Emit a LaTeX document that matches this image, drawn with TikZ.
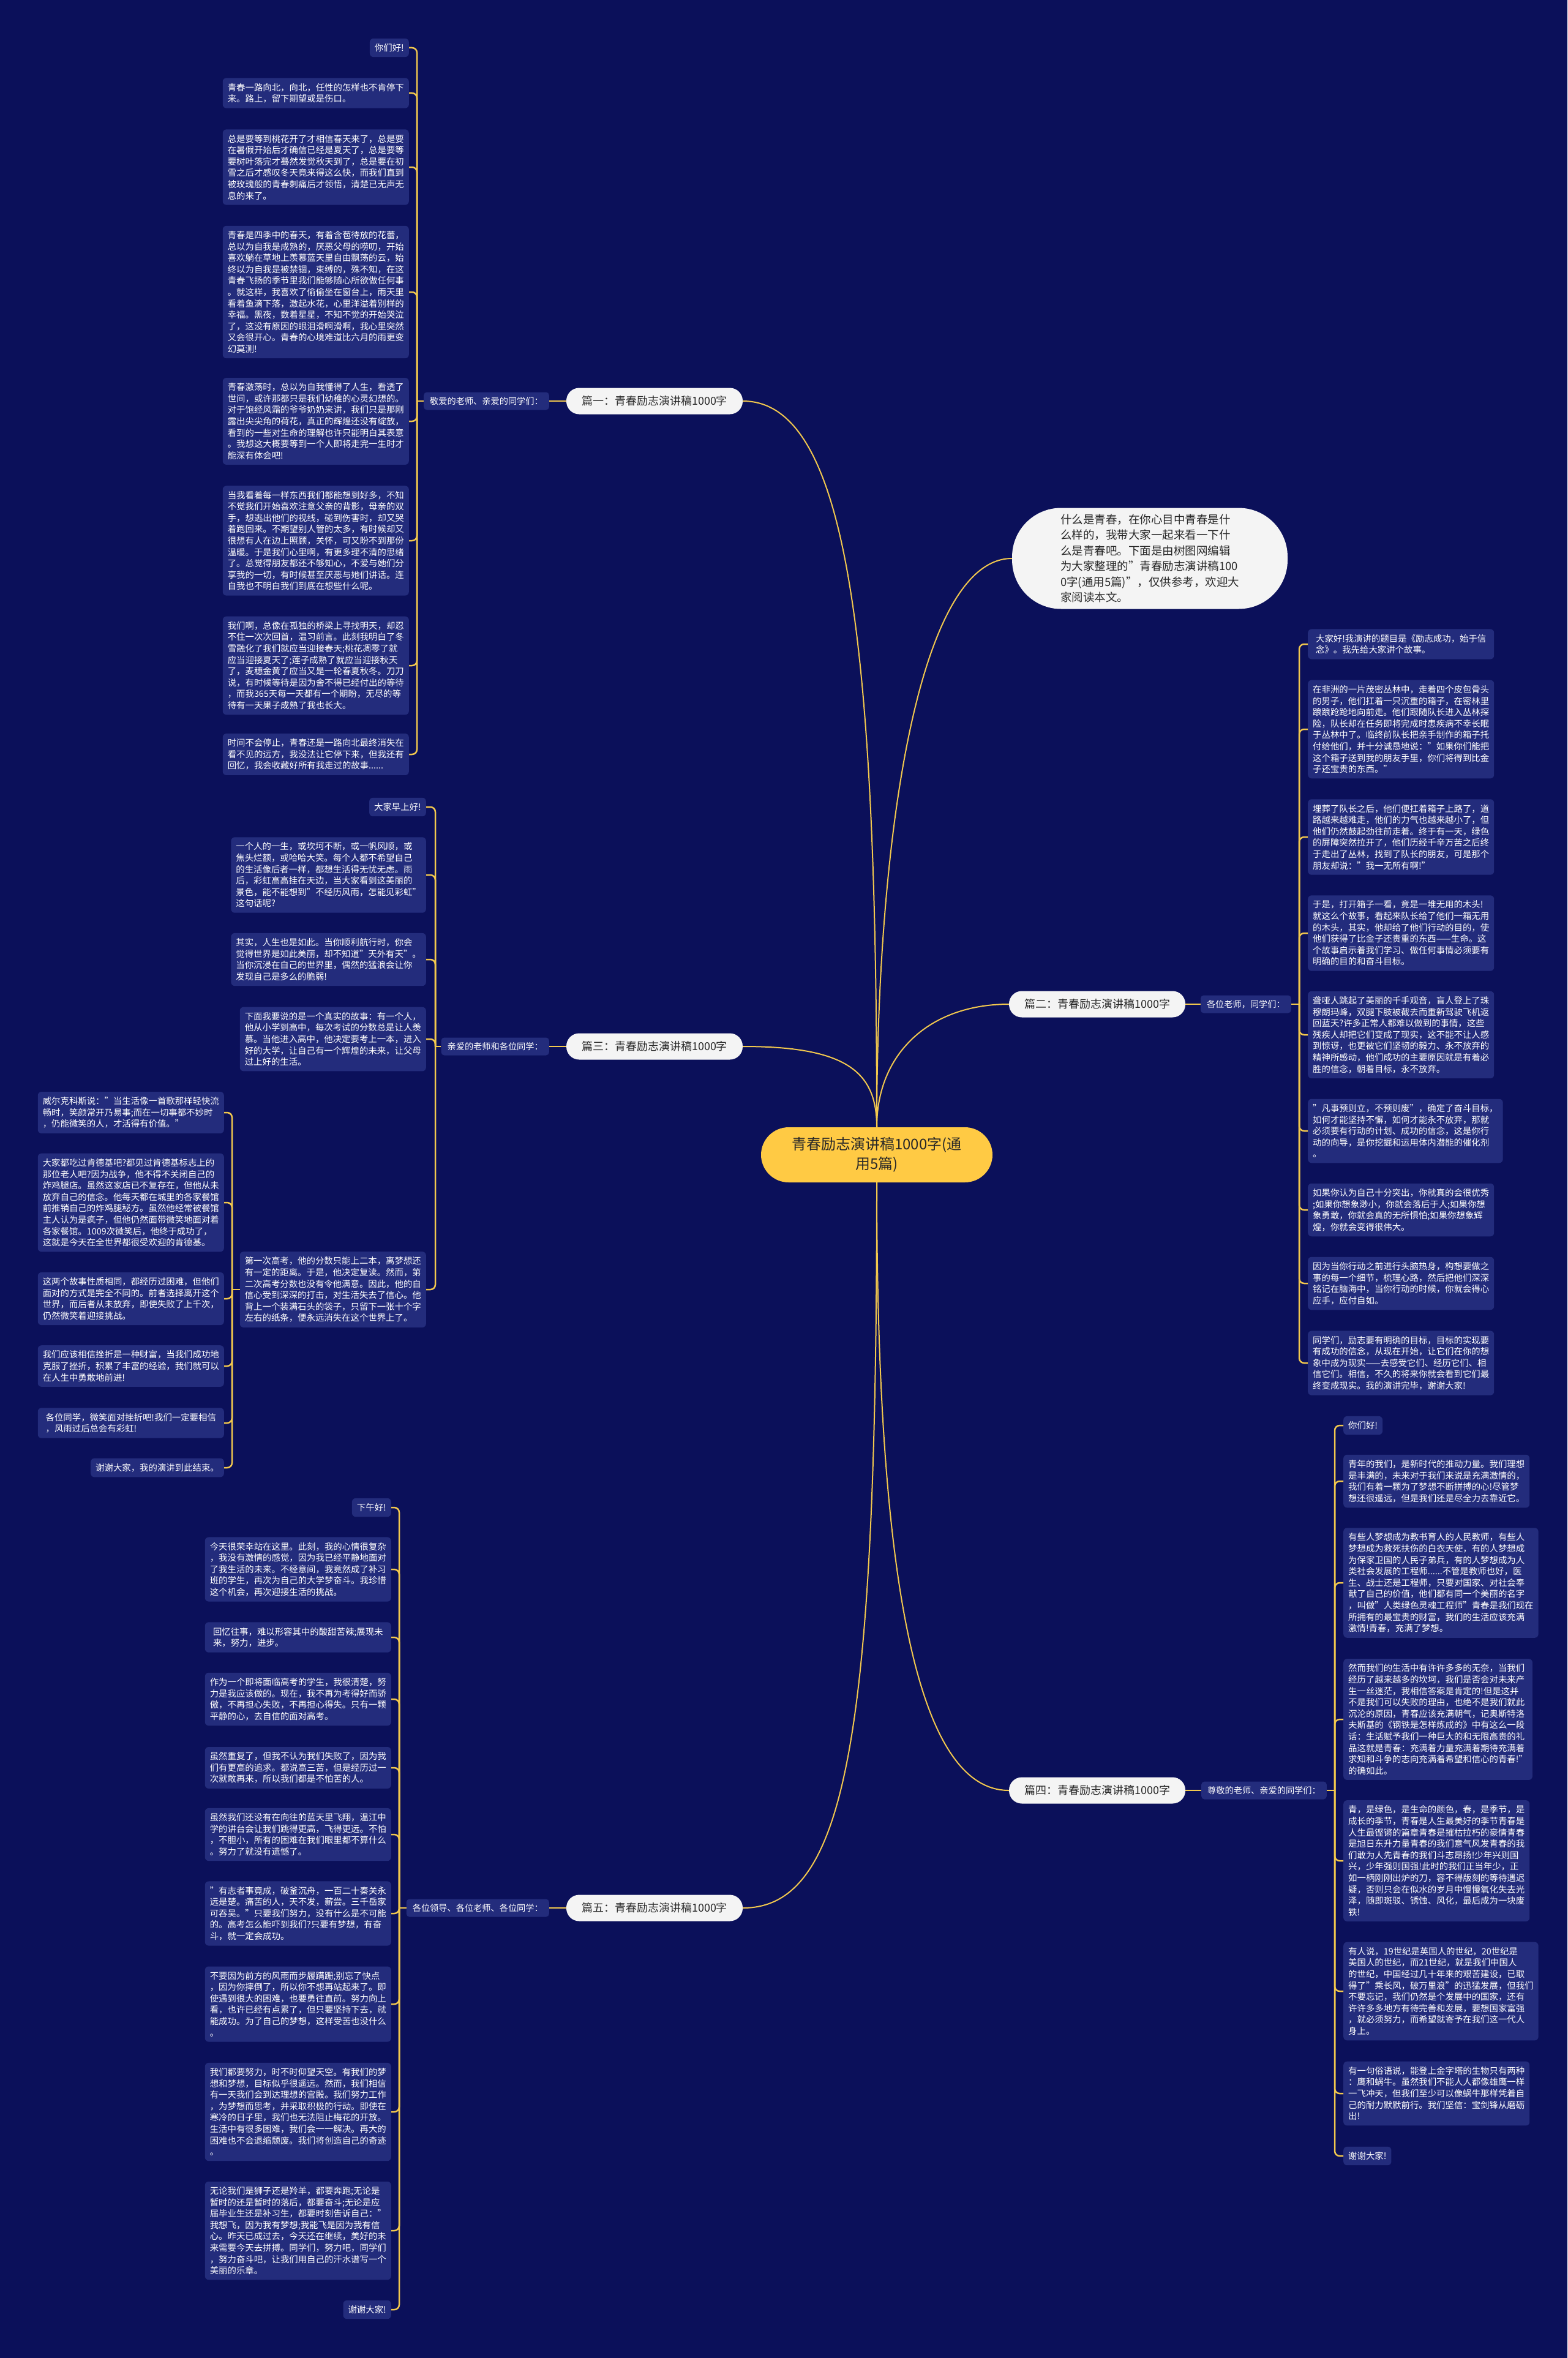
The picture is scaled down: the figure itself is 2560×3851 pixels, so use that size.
\documentclass[tikz,border=0pt]{standalone}
\usepackage{fontspec}
\setmainfont{Noto Sans CJK SC}
\definecolor{bgblue}{RGB}{11,16,90}
\definecolor{leafblue}{RGB}{35,44,124}
\definecolor{linegold}{RGB}{242,200,78}
\definecolor{hubgold}{RGB}{255,202,68}
\definecolor{pillgray}{RGB}{244,244,244}
\definecolor{inkdark}{RGB}{40,40,40}
\tikzset{
  leaf/.style={fill=leafblue, rounded corners=6pt, text=white, align=left, inner xsep=8pt, inner ysep=8.5pt, font=\fontsize{14.4}{18.6}\selectfont},
  fullw/.style={minimum width=304pt},
  greet/.style={fill=leafblue, rounded corners=5pt, text=white, inner xsep=10pt, inner ysep=0pt, minimum height=29pt, font=\fontsize{14.2}{17}\selectfont},
  pill/.style={fill=pillgray, rounded corners=21pt, text=inkdark, minimum width=288pt, minimum height=43pt, font=\fontsize{18}{22}\selectfont},
  hub/.style={fill=hubgold, rounded corners=45pt, text=inkdark, align=center, minimum width=378pt, minimum height=90pt, font=\fontsize{24}{32}\selectfont},
  introbox/.style={fill=pillgray, rounded corners=80pt, text=inkdark, align=left, minimum width=450pt, minimum height=165pt, font=\fontsize{18.5}{25.5}\selectfont},
  link/.style={draw=linegold, line width=2pt},
  brk/.style={draw=linegold, line width=2.5pt, rounded corners=8pt}
}
\begin{document}
\begin{tikzpicture}[x=1pt,y=-1pt]
\fill[bgblue] (0,0) rectangle (2560,3851);

\node[hub] (hub) at (1432,1886) {青春励志演讲稿1000字(通\\用5篇)};
\node[introbox] (intro) at (1878,912) {什么是青春，在你心目中青春是什\\么样的，我带大家一起来看一下什\\么是青春吧。下面是由树图网编辑\\为大家整理的"青春励志演讲稿100\\0字(通用5篇)"，仅供参考，欢迎大\\家阅读本文。};

\node[pill] (b1) at (1069,655) {篇一：青春励志演讲稿1000字};
\node[pill] (b2) at (1792,1640) {篇二：青春励志演讲稿1000字};
\node[pill] (b3) at (1069,1709) {篇三：青春励志演讲稿1000字};
\node[pill] (b4) at (1792,2924) {篇四：青春励志演讲稿1000字};
\node[pill] (b5) at (1069,3116) {篇五：青春励志演讲稿1000字};

\node[greet, anchor=east] (g1) at (897,655) {敬爱的老师、亲爱的同学们：};
\node[greet, anchor=east] (g2) at (2109,1640) {各位老师，同学们：};
\node[greet, anchor=east] (g3) at (897,1709) {亲爱的老师和各位同学：};
\node[greet, anchor=east] (g4) at (2167,2924) {尊敬的老师、亲爱的同学们：};
\node[greet, anchor=east] (g5) at (897,3116) {各位领导、各位老师、各位同学：};

\coordinate (j1) at (681,655);
\coordinate (j2) at (2122,1640);
\coordinate (j3) at (711,1709);
\coordinate (j3s) at (379,2106);
\coordinate (j4) at (2180,2924);
\coordinate (j5) at (652,3116);

% pian yi
\node[leaf, anchor=east] (a1) at (668,78) {你们好!};
\node[leaf, fullw, anchor=east] (a2) at (668,152) {青春一路向北，向北，任性的怎样也不肯停下\\来。路上，留下期望或是伤口。};
\node[leaf, fullw, anchor=east] (a3) at (668,273) {总是要等到桃花开了才相信春天来了，总是要\\在暑假开始后才确信已经是夏天了，总是要等\\要树叶落完才蓦然发觉秋天到了，总是要在初\\雪之后才感叹冬天竟来得这么快，而我们直到\\被玫瑰般的青春刺痛后才领悟，清楚已无声无\\息的来了。};
\node[leaf, fullw, anchor=east] (a4) at (668,477) {青春是四季中的春天，有着含苞待放的花蕾，\\总以为自我是成熟的，厌恶父母的唠叨，开始\\喜欢躺在草地上羡慕蓝天里自由飘荡的云，始\\终以为自我是被禁锢，束缚的，殊不知，在这\\青春飞扬的季节里我们能够随心所欲做任何事\\。就这样，我喜欢了偷偷坐在窗台上，雨天里\\看着鱼滴下落，激起水花，心里洋溢着别样的\\幸福。黑夜，数着星星，不知不觉的开始哭泣\\了，这没有原因的眼泪滑啊滑啊，我心里突然\\又会很开心。青春的心境难道比六月的雨更变\\幻莫测!};
\node[leaf, fullw, anchor=east] (a5) at (668,688) {青春激荡时，总以为自我懂得了人生，看透了\\世间，或许那都只是我们幼稚的心灵幻想的。\\对于饱经风霜的爷爷奶奶来讲，我们只是那刚\\露出尖尖角的荷花，真正的辉煌还没有绽放，\\看到的一些对生命的理解也许只能明白其表意\\。我想这大概要等到一个人即将走完一生时才\\能深有体会吧!};
\node[leaf, fullw, anchor=east] (a6) at (668,883) {当我看着每一样东西我们都能想到好多，不知\\不觉我们开始喜欢注意父亲的背影，母亲的双\\手，想逃出他们的视线，碰到伤害时，却又哭\\着跑回来。不期望别人管的太多，有时候却又\\很想有人在边上照顾，关怀，可又盼不到那份\\温暖。于是我们心里啊，有更多理不清的思绪\\了。总觉得朋友都还不够知心，不爱与她们分\\享我的一切，有时候甚至厌恶与她们讲话。连\\自我也不明白我们到底在想些什么呢。};
\node[leaf, fullw, anchor=east] (a7) at (668,1087) {我们啊，总像在孤独的桥梁上寻找明天，却忍\\不住一次次回首，温习前言。此刻我明白了冬\\雪融化了我们就应当迎接春天;桃花凋零了就\\应当迎接夏天了;莲子成熟了就应当迎接秋天\\了，麦穗金黄了应当又是一轮春夏秋冬。刀刀\\说，有时候等待是因为舍不得已经付出的等待\\，而我365天每一天都有一个期盼，无尽的等\\待有一天果子成熟了我也长大。};
\node[leaf, fullw, anchor=east] (a8) at (668,1232) {时间不会停止，青春还是一路向北最终消失在\\看不见的远方，我没法让它停下来，但我还有\\回忆，我会收藏好所有我走过的故事......};

% pian er
\node[leaf, fullw, anchor=west] (p1) at (2136,1052) {大家好!我演讲的题目是《励志成功，始于信\\念》。我先给大家讲个故事。};
\node[leaf, fullw, anchor=west] (p2) at (2136,1191) {在非洲的一片茂密丛林中，走着四个皮包骨头\\的男子，他们扛着一只沉重的箱子，在密林里\\踉踉跄跄地向前走。他们跟随队长进入丛林探\\险，队长却在任务即将完成时患疾病不幸长眠\\于丛林中了。临终前队长把亲手制作的箱子托\\付给他们，并十分诚恳地说："如果你们能把\\这个箱子送到我的朋友手里，你们将得到比金\\子还宝贵的东西。"};
\node[leaf, fullw, anchor=west] (p3) at (2136,1367) {埋葬了队长之后，他们便扛着箱子上路了，道\\路越来越难走，他们的力气也越来越小了，但\\他们仍然鼓起劲往前走着。终于有一天，绿色\\的屏障突然拉开了，他们历经千辛万苦之后终\\于走出了丛林，找到了队长的朋友，可是那个\\朋友却说："我一无所有啊!"};
\node[leaf, fullw, anchor=west] (p4) at (2136,1524) {于是，打开箱子一看，竟是一堆无用的木头!\\就这么个故事，看起来队长给了他们一箱无用\\的木头，其实，他却给了他们行动的目的，使\\他们获得了比金子还贵重的东西——生命。这\\个故事启示着我们学习、做任何事情必须要有\\明确的目的和奋斗目标。};
\node[leaf, fullw, anchor=west] (p5) at (2136,1690) {聋哑人跳起了美丽的千手观音，盲人登上了珠\\穆朗玛峰，双腿下肢被截去而重新驾驶飞机返\\回蓝天?许多正常人都难以做到的事情，这些\\残疾人却把它们变成了现实，这不能不让人感\\到惊讶，也更被它们坚韧的毅力、永不放弃的\\精神所感动，他们成功的主要原因就是有着必\\胜的信念，朝着目标，永不放弃。};
\node[leaf, fullw, anchor=west] (p6) at (2136,1847) {"凡事预则立，不预则废"，确定了奋斗目标，\\如何才能坚持不懈，如何才能永不放弃，那就\\必须要有行动的计划、成功的信念，这是你行\\动的向导，是你挖掘和运用体内潜能的催化剂\\。};
\node[leaf, fullw, anchor=west] (p7) at (2136,1976) {如果你认为自己十分突出，你就真的会很优秀\\;如果你想象渺小，你就会落后于人;如果你想\\象勇敢，你就会真的无所惧怕;如果你想象辉\\煌，你就会变得很伟大。};
\node[leaf, fullw, anchor=west] (p8) at (2136,2096) {因为当你行动之前进行头脑热身，构想要做之\\事的每一个细节，梳理心路，然后把他们深深\\铭记在脑海中，当你行动的时候，你就会得心\\应手，应付自如。};
\node[leaf, fullw, anchor=west] (p9) at (2136,2226) {同学们，励志要有明确的目标，目标的实现要\\有成功的信念，从现在开始，让它们在你的想\\象中成为现实——去感受它们、经历它们、相\\信它们。相信，不久的将来你就会看到它们最\\终变成现实。我的演讲完毕，谢谢大家!};

% pian san
\node[leaf, anchor=east] (c1) at (696,1318) {大家早上好!};
\node[leaf, fullw, anchor=east] (c2) at (696,1429) {一个人的一生，或坎坷不断，或一帆风顺，或\\焦头烂额，或哈哈大笑。每个人都不希望自己\\的生活像后者一样，都想生活得无忧无虑。雨\\后，彩虹高高挂在天边，当大家看到这美丽的\\景色，能不能想到"不经历风雨，怎能见彩虹"\\这句话呢?};
\node[leaf, fullw, anchor=east] (c3) at (696,1567) {其实，人生也是如此。当你顺利航行时，你会\\觉得世界是如此美丽，却不知道"天外有天"。\\当你沉浸在自己的世界里，偶然的猛浪会让你\\发现自己是多么的脆弱!};
\node[leaf, fullw, anchor=east] (c4) at (696,1697) {下面我要说的是一个真实的故事：有一个人，\\他从小学到高中，每次考试的分数总是让人羡\\慕。当他进入高中，他决定要考上一本，进入\\好的大学，让自己有一个辉煌的未来，让父母\\过上好的生活。};
\node[leaf, fullw, anchor=east] (c5) at (696,2106) {第一次高考，他的分数只能上二本，离梦想还\\有一定的距离。于是，他决定复读。然而，第\\二次高考分数也没有令他满意。因此，他的自\\信心受到深深的打击，对生活失去了信心。他\\背上一个装满石头的袋子，只留下一张十个字\\左右的纸条，便永远消失在这个世界上了。};
\node[leaf, fullw, anchor=east] (d1) at (366,1817) {威尔克科斯说："当生活像一首歌那样轻快流\\畅时，笑颜常开乃易事;而在一切事都不妙时\\，仍能微笑的人，才活得有价值。"};
\node[leaf, fullw, anchor=east] (d2) at (366,1964) {大家都吃过肯德基吧?都见过肯德基标志上的\\那位老人吧?因为战争，他不得不关闭自己的\\炸鸡腿店。虽然这家店已不复存在，但他从未\\放弃自己的信念。他每天都在城里的各家餐馆\\前推销自己的炸鸡腿秘方。虽然他经常被餐馆\\主人认为是疯子，但他仍然面带微笑地面对着\\各家餐馆。1009次微笑后，他终于成功了，\\这就是今天在全世界都很受欢迎的肯德基。};
\node[leaf, fullw, anchor=east] (d3) at (366,2121) {这两个故事性质相同，都经历过困难，但他们\\面对的方式是完全不同的。前者选择离开这个\\世界，而后者从未放弃，即使失败了上千次，\\仍然微笑着迎接挑战。};
\node[leaf, fullw, anchor=east] (d4) at (366,2231) {我们应该相信挫折是一种财富，当我们成功地\\克服了挫折，积累了丰富的经验，我们就可以\\在人生中勇敢地前进!};
\node[leaf, fullw, anchor=east] (d5) at (366,2324) {各位同学，微笑面对挫折吧!我们一定要相信\\，风雨过后总会有彩虹!};
\node[leaf, anchor=east] (d6) at (366,2397) {谢谢大家，我的演讲到此结束。};

% pian si
\node[leaf, anchor=west] (q1) at (2194,2328) {你们好!};
\node[leaf, fullw, anchor=west] (q2) at (2194,2419) {青年的我们，是新时代的推动力量。我们理想\\是丰满的，未来对于我们来说是充满激情的，\\我们有着一颗为了梦想不断拼搏的心!尽管梦\\想还很遥远，但是我们还是尽全力去靠近它。};
\node[leaf, fullw, anchor=west] (q3) at (2194,2585) {有些人梦想成为教书育人的人民教师，有些人\\梦想成为救死扶伤的白衣天使，有的人梦想成\\为保家卫国的人民子弟兵，有的人梦想成为人\\类社会发展的工程师......不管是教师也好，医\\生、战士还是工程师，只要对国家、对社会奉\\献了自己的价值，他们都有同一个美丽的名字\\，叫做"人类绿色灵魂工程师"青春是我们现在\\所拥有的最宝贵的财富，我们的生活应该充满\\激情!青春，充满了梦想。};
\node[leaf, fullw, anchor=west] (q4) at (2194,2808) {然而我们的生活中有许许多多的无奈，当我们\\经历了越来越多的坎坷，我们是否会对未来产\\生一丝迷茫，我相信答案是肯定的!但是这并\\不是我们可以失败的理由，也绝不是我们就此\\沉沦的原因，青春应该充满朝气，记奥斯特洛\\夫斯基的《钢铁是怎样炼成的》中有这么一段\\话：生活赋予我们一种巨大的和无限高贵的礼\\品这就是青春：充满着力量充满着期待充满着\\求知和斗争的志向充满着希望和信心的青春!"\\的确如此。};
\node[leaf, fullw, anchor=west] (q5) at (2194,3039) {青，是绿色，是生命的颜色，春，是季节，是\\成长的季节，青春是人生最美好的季节青春是\\人生最铿锵的篇章青春是摧枯拉朽的豪情青春\\是旭日东升力量青春的我们意气风发青春的我\\们敢为人先青春的我们斗志昂扬!少年兴则国\\兴，少年强则国强!此时的我们正当年少，正\\如一柄刚刚出炉的刀，容不得版刻的等待遇迟\\疑，否则只会在似水的岁月中慢慢氧化失去光\\泽，随即斑驳、锈蚀、风化，最后成为一块废\\铁!};
\node[leaf, fullw, anchor=west] (q6) at (2194,3252) {有人说，19世纪是英国人的世纪，20世纪是\\美国人的世纪，而21世纪，就是我们中国人\\的世纪，中国经过几十年来的艰苦建设，已取\\得了"乘长风，破万里浪"的迅猛发展，但我们\\不要忘记，我们仍然是个发展中的国家，还有\\许许多多地方有待完善和发展，要想国家富强\\，就必须努力，而希望就寄予在我们这一代人\\身上。};
\node[leaf, fullw, anchor=west] (q7) at (2194,3419) {有一句俗语说，能登上金字塔的生物只有两种\\：鹰和蜗牛。虽然我们不能人人都像雄鹰一样\\一飞冲天，但我们至少可以像蜗牛那样凭着自\\己的耐力默默前行。我们坚信：宝剑锋从磨砺\\出!};
\node[leaf, anchor=west] (q8) at (2194,3521) {谢谢大家!};

% pian wu
\node[leaf, anchor=east] (e1) at (639,2462) {下午好!};
\node[leaf, fullw, anchor=east] (e2) at (639,2563) {今天很荣幸站在这里。此刻，我的心情很复杂\\，我没有激情的感觉，因为我已经平静地面对\\了我生活的未来。不经意间，我竟然成了补习\\班的学生，再次为自己的大学梦奋斗。我珍惜\\这个机会，再次迎接生活的挑战。};
\node[leaf, fullw, anchor=east] (e3) at (639,2674) {回忆往事，难以形容其中的酸甜苦辣;展现未\\来，努力，进步。};
\node[leaf, fullw, anchor=east] (e4) at (639,2775) {作为一个即将面临高考的学生，我很清楚，努\\力是我应该做的。现在，我不再为考得好而骄\\傲，不再担心失败，不再担心得失。只有一颗\\平静的心，去自信的面对高考。};
\node[leaf, fullw, anchor=east] (e5) at (639,2887) {虽然重复了，但我不认为我们失败了，因为我\\们有更高的追求。都说高三苦，但是经历过一\\次就敢再来，所以我们都是不怕苦的人。};
\node[leaf, fullw, anchor=east] (e6) at (639,2996) {虽然我们还没有在向往的蓝天里飞翔，温江中\\学的讲台会让我们跳得更高，飞得更远。不怕\\，不胆小，所有的困难在我们眼里都不算什么\\。努力了就没有遗憾了。};
\node[leaf, fullw, anchor=east] (e7) at (639,3125) {"有志者事竟成，破釜沉舟，一百二十秦关永\\远是楚。痛苦的人，天不发，薪尝。三千岳家\\可吞吴。"只要我们努力，没有什么是不可能\\的。高考怎么能吓到我们?只要有梦想，有奋\\斗，就一定会成功。};
\node[leaf, fullw, anchor=east] (e8) at (639,3273) {不要因为前方的风雨而步履蹒跚;别忘了快点\\，因为你摔倒了，所以你不想再站起来了。即\\使遇到很大的困难，也要勇往直前。努力向上\\看，也许已经有点累了，但只要坚持下去，就\\能成功。为了自己的梦想，这样受苦也没什么\\。};
\node[leaf, fullw, anchor=east] (e9) at (639,3449) {我们都要努力，时不时仰望天空。有我们的梦\\想和梦想，目标似乎很遥远。然而，我们相信\\有一天我们会到达理想的宫殿。我们努力工作\\，为梦想而思考，并采取积极的行动。即使在\\寒冷的日子里，我们也无法阻止梅花的开放。\\生活中有很多困难，我们会一一解决。再大的\\困难也不会退缩颓废。我们将创造自己的奇迹\\。};
\node[leaf, fullw, anchor=east] (e10) at (639,3643) {无论我们是狮子还是羚羊，都要奔跑;无论是\\暂时的还是暂时的落后，都要奋斗;无论是应\\届毕业生还是补习生，都要时刻告诉自己："\\我想飞，因为我有梦想;我能飞是因为我有信\\心。昨天已成过去，今天还在继续，美好的未\\来需要今天去拼搏。同学们，努力吧，同学们\\，努力奋斗吧，让我们用自己的汗水谱写一个\\美丽的乐章。};
\node[leaf, anchor=east] (e11) at (639,3772) {谢谢大家!};

% connectors
\draw[link] (hub.north) .. controls +(0,-490) and +(-150,0) .. (intro.west);
\draw[link] (hub.north) .. controls +(0,-800) and +(170,0) .. (b1.east);
\draw[link] (hub.north) .. controls +(0,-120) and +(-130,0) .. (b2.west);
\draw[link] (hub.north) .. controls +(0,-90) and +(170,0) .. (b3.east);
\draw[link] (hub.south) .. controls +(0,650) and +(-150,0) .. (b4.west);
\draw[link] (hub.south) .. controls +(0,900) and +(170,0) .. (b5.east);

\draw[link] (b1.west) -- (g1.east);
\draw[link] (b2.east) -- (g2.west);
\draw[link] (b3.west) -- (g3.east);
\draw[link] (b4.east) -- (g4.west);
\draw[link] (b5.west) -- (g5.east);

\draw[brk] (g1.west) -- (j1);
\foreach \n in {a1,a2,a3,a4,a5,a6,a7,a8}
  \draw[brk] (j1) |- (\n.east);
\draw[brk] (g2.east) -- (j2);
\foreach \n in {p1,p2,p3,p4,p5,p6,p7,p8,p9}
  \draw[brk] (j2) |- (\n.west);
\draw[brk] (g3.west) -- (j3);
\foreach \n in {c1,c2,c3,c4,c5}
  \draw[brk] (j3) |- (\n.east);
\draw[brk] (c5.west) -- (j3s);
\foreach \n in {d1,d2,d3,d4,d5,d6}
  \draw[brk] (j3s) |- (\n.east);
\draw[brk] (g4.east) -- (j4);
\foreach \n in {q1,q2,q3,q4,q5,q6,q7,q8}
  \draw[brk] (j4) |- (\n.west);
\draw[brk] (g5.west) -- (j5);
\foreach \n in {e1,e2,e3,e4,e5,e6,e7,e8,e9,e10,e11}
  \draw[brk] (j5) |- (\n.east);
\end{tikzpicture}
\end{document}
